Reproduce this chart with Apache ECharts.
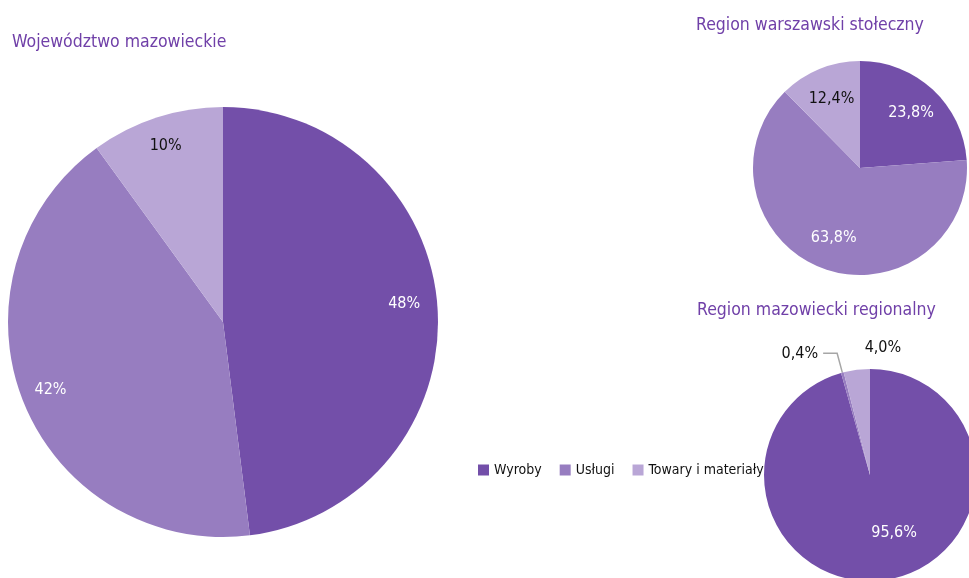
<!DOCTYPE html>
<html>
<head>
<meta charset="UTF-8">
<title></title>
<script src="https://cdn.jsdelivr.net/npm/echarts@6/dist/echarts.min.js"></script>
<style>
body,html{ padding:0px; margin:0px; background:#fff;}
#chart{ width:969px; height:578px; }
</style>
</head>
<body>
<div id="chart"></div>
<script type="text/javascript">
var categories = ['Wyroby', 'Usługi', 'Towary i materiały'];
var titles = ['Województwo mazowieckie', 'Region warszawski stołeczny', 'Region mazowiecki regionalny'];
var valuesWoj = [48, 42, 10];
var valuesWarszawa = [23.8, 63.8, 12.4];
var valuesRegion = [95.6, 0.4, 4.0];

var colors = ['#734fa9', '#977dc0', '#b9a6d6'];
var font = "'Liberation Sans Narrow', 'DejaVu Sans Condensed', sans-serif";
var titleStyle = { fontFamily: font, fontSize: 17.5, fontWeight: 'normal', color: '#7040a8' };

function fmtDec(p) {
    return p.value.toFixed(1).replace('.', ',') + '%';
}
function fmtInt(p) {
    return p.value + '%';
}
function toData(vals, labelColors) {
    return vals.map(function (v, i) {
        return { name: categories[i], value: v, label: { color: labelColors[i] } };
    });
}

var myChart = echarts.init(document.getElementById('chart'));

var option = {
    color: colors,
    animation: false,
    title: [
        { text: titles[0], left: 12, top: 33, padding: 0, textStyle: titleStyle },
        { text: titles[1], left: 696, top: 16, padding: 0, textStyle: titleStyle },
        { text: titles[2], left: 697, top: 301, padding: 0, textStyle: titleStyle }
    ],
    legend: {
        data: categories,
        left: 478,
        top: 463,
        padding: 0,
        icon: 'rect',
        itemWidth: 11,
        itemHeight: 11,
        itemGap: 18,
        textStyle: { fontFamily: font, fontSize: 14, color: '#111' }
    },
    series: [
        // widoczne koła
        { type: 'pie', center: [223, 322], radius: 215, label: { show: false }, labelLine: { show: false },
          data: toData(valuesWoj, ['#fff', '#fff', '#111']) },
        { type: 'pie', center: [860, 168], radius: 107, label: { show: false }, labelLine: { show: false },
          data: toData(valuesWarszawa, ['#fff', '#fff', '#111']) },
        { type: 'pie', center: [870, 475], radius: 106, label: { show: false }, labelLine: { show: false },
          data: toData(valuesRegion, ['#fff', '#111', '#111']) },
        // przezroczyste pierścienie z etykietami
        { type: 'pie', center: [223, 322], radius: [150, 215], silent: true, legendHoverLink: false,
          itemStyle: { color: 'transparent' }, emphasis: { disabled: true },
          label: { position: 'inner', formatter: fmtInt, fontFamily: font, fontSize: 16 },
          labelLayout: function (p) {
              if (p.dataIndex === 0) return { dx: -4, dy: -7 };
          },
          data: toData(valuesWoj, ['#fff', '#fff', '#111']) },
        { type: 'pie', center: [860, 168], radius: [37, 107], silent: true, legendHoverLink: false,
          itemStyle: { color: 'transparent' }, emphasis: { disabled: true },
          label: { position: 'inner', formatter: fmtDec, fontFamily: font, fontSize: 16 },
          data: toData(valuesWarszawa, ['#fff', '#fff', '#111']) },
        { type: 'pie', center: [870, 475], radius: [20, 106], silent: true, legendHoverLink: false,
          avoidLabelOverlap: false,
          itemStyle: { color: 'transparent' }, emphasis: { disabled: true },
          label: { formatter: fmtDec, fontFamily: font, fontSize: 16 },
          labelLine: { length: 20, length2: 14, lineStyle: { color: '#a6a6a6', width: 1.5 } },
          labelLayout: function (p) {
              if (p.dataIndex === 0) return { dx: 15, dy: -8 };
              if (p.dataIndex === 2) return { dx: 66, dy: -2 };
          },
          data: valuesRegion.map(function (v, i) {
              var d = { name: categories[i], value: v, label: { color: i === 0 ? '#fff' : '#111' } };
              d.label.position = i === 0 ? 'inner' : 'outside';
              if (i === 2) d.labelLine = { show: false };
              return d;
          }) }
    ]
};

myChart.setOption(option);
</script>
</body>
</html>
